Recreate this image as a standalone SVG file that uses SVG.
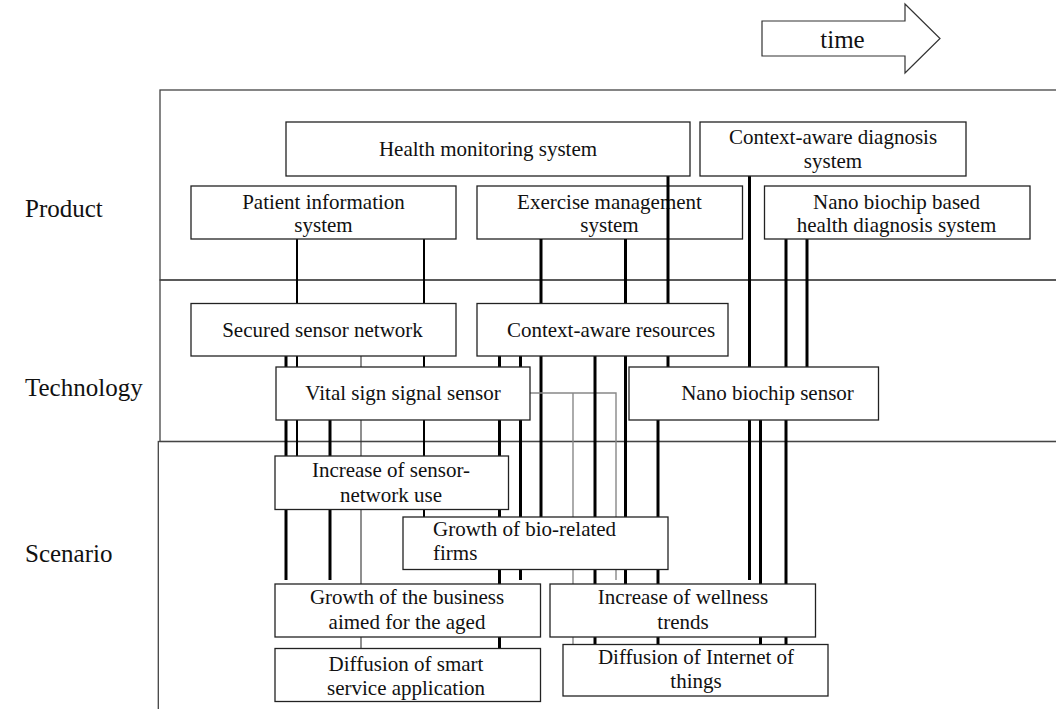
<svg xmlns="http://www.w3.org/2000/svg" width="1056" height="709" viewBox="0 0 1056 709">
  <style>
    .frame { fill: none; stroke: #444; stroke-width: 1.3; }
    .box { fill: #fff; stroke: #222; stroke-width: 1.3; }
    .txt { font-family: "Liberation Serif", "Times New Roman", serif; font-size: 21px; fill: #111; text-anchor: middle; }
    .lft { text-anchor: start; }
    .lbl { font-family: "Liberation Serif", "Times New Roman", serif; font-size: 25px; fill: #111; }
    .thick { stroke: #000; stroke-width: 3; }
    .mid { stroke: #000; stroke-width: 2; }
    .thin { stroke: #333; stroke-width: 1.1; }
    .gray { stroke: #888; stroke-width: 1.4; fill: none; }
  </style>

  <rect width="1056" height="709" fill="#fff"/>

  <!-- time arrow -->
  <g id="time-arrow">
    <polygon points="762,21 905,21 905,4 940,38.5 905,73 905,56 762,56" fill="#fff" stroke="#333" stroke-width="1.2"/>
    <text x="842.5" y="48" class="lbl" text-anchor="middle">time</text>
  </g>

  <!-- layer bands -->
  <g id="layers">
    <rect class="frame" x="160" y="90" width="900" height="190"/>
    <rect class="frame" x="160" y="280" width="900" height="161.5"/>
    <rect class="frame" x="158.3" y="441.5" width="900" height="300"/>
    <text x="25" y="217" class="lbl">Product</text>
    <text x="25" y="396" class="lbl">Technology</text>
    <text x="25" y="562" class="lbl">Scenario</text>
  </g>

  <!-- product row: this box sits under the connector layer -->
  <g id="exercise-management">
    <rect class="box" x="477" y="186" width="265.5" height="53"/>
    <text class="txt" x="609.5" y="208.5">Exercise management</text>
    <text class="txt" x="609.5" y="232">system</text>
  </g>

  <!-- connectors -->
  <g id="connectors">
    <line class="thick" x1="286" y1="356" x2="286" y2="580"/>
    <line class="mid" x1="297" y1="239" x2="297" y2="456"/>
    <line class="thick" x1="330" y1="420" x2="330" y2="580"/>
    <line class="thin" x1="361" y1="356" x2="361" y2="648"/>
    <line class="mid" x1="424" y1="239" x2="424" y2="517"/>
    <line class="thick" x1="499.5" y1="356" x2="499.5" y2="648"/>
    <line class="thick" x1="520.5" y1="356" x2="520.5" y2="580"/>
    <line class="thick" x1="541" y1="239" x2="541" y2="517" stroke-width="2.5"/>
    <polyline class="gray" points="530,393 616,393 616,580"/>
    <line class="gray" x1="573" y1="393" x2="573" y2="644"/>
    <line class="thick" x1="595" y1="356" x2="595" y2="644"/>
    <line class="thick" x1="625.5" y1="239" x2="625.5" y2="584"/>
    <line class="thick" x1="658" y1="420" x2="658" y2="644"/>
    <line class="thick" x1="668" y1="176" x2="668" y2="367"/>
    <line class="thick" x1="749.5" y1="176" x2="749.5" y2="580"/>
    <line class="thick" x1="760.5" y1="420" x2="760.5" y2="644"/>
    <line class="thick" x1="786" y1="239" x2="786" y2="644"/>
    <line class="thick" x1="807" y1="239" x2="807" y2="367"/>
  </g>

  <!-- product row -->
  <g id="health-monitoring">
    <rect class="box" x="286" y="122" width="404" height="54"/>
    <text class="txt" x="488" y="156">Health monitoring system</text>
  </g>
  <g id="context-aware-diagnosis">
    <rect class="box" x="700" y="122" width="266" height="54"/>
    <text class="txt" x="833" y="143.5">Context-aware diagnosis</text>
    <text class="txt" x="833" y="167.5">system</text>
  </g>
  <g id="patient-information">
    <rect class="box" x="191" y="186" width="265" height="53"/>
    <text class="txt" x="323.5" y="208.5">Patient information</text>
    <text class="txt" x="323.5" y="232">system</text>
  </g>
  <g id="nano-biochip-diagnosis">
    <rect class="box" x="764.5" y="186" width="265.5" height="53"/>
    <text class="txt" x="896.5" y="208.5">Nano biochip based</text>
    <text class="txt" x="896.5" y="232">health diagnosis system</text>
  </g>

  <!-- technology row -->
  <g id="secured-sensor-network">
    <rect class="box" x="191" y="303.5" width="265" height="52.5"/>
    <text class="txt" x="322.5" y="337">Secured sensor network</text>
  </g>
  <g id="context-aware-resources">
    <rect class="box" x="477" y="303.5" width="251" height="52.5"/>
    <text class="txt" x="611" y="337">Context-aware resources</text>
  </g>
  <g id="vital-sign-sensor">
    <rect class="box" x="276" y="367" width="254" height="53"/>
    <text class="txt" x="403" y="400">Vital sign signal sensor</text>
  </g>
  <g id="nano-biochip-sensor">
    <rect class="box" x="629" y="367" width="249.5" height="53"/>
    <text class="txt" x="767.5" y="400">Nano biochip sensor</text>
  </g>

  <!-- scenario row -->
  <g id="sensor-network-use">
    <rect class="box" x="275" y="456" width="233.5" height="53.5"/>
    <text class="txt" x="391" y="477">Increase of sensor-</text>
    <text class="txt" x="391" y="501.5">network use</text>
  </g>
  <g id="bio-related-firms">
    <rect class="box" x="403" y="517" width="265" height="52.5"/>
    <text class="txt lft" x="433" y="536">Growth of bio-related</text>
    <text class="txt lft" x="433" y="559.5">firms</text>
  </g>
  <g id="business-for-aged">
    <rect class="box" x="275" y="584" width="265.5" height="53"/>
    <text class="txt" x="407" y="604">Growth of the business</text>
    <text class="txt" x="407" y="629">aimed for the aged</text>
  </g>
  <g id="smart-service">
    <rect class="box" x="275" y="648.5" width="265.5" height="53"/>
    <text class="txt" x="406" y="670.5">Diffusion of smart</text>
    <text class="txt" x="406" y="695">service application</text>
  </g>
  <g id="wellness-trends">
    <rect class="box" x="550" y="584" width="265.5" height="53"/>
    <text class="txt" x="683" y="604">Increase of wellness</text>
    <text class="txt" x="683" y="629">trends</text>
  </g>
  <g id="internet-of-things">
    <rect class="box" x="563" y="644.5" width="265" height="51.5"/>
    <text class="txt" x="696" y="664">Diffusion of Internet of</text>
    <text class="txt" x="696" y="688">things</text>
  </g>
</svg>
